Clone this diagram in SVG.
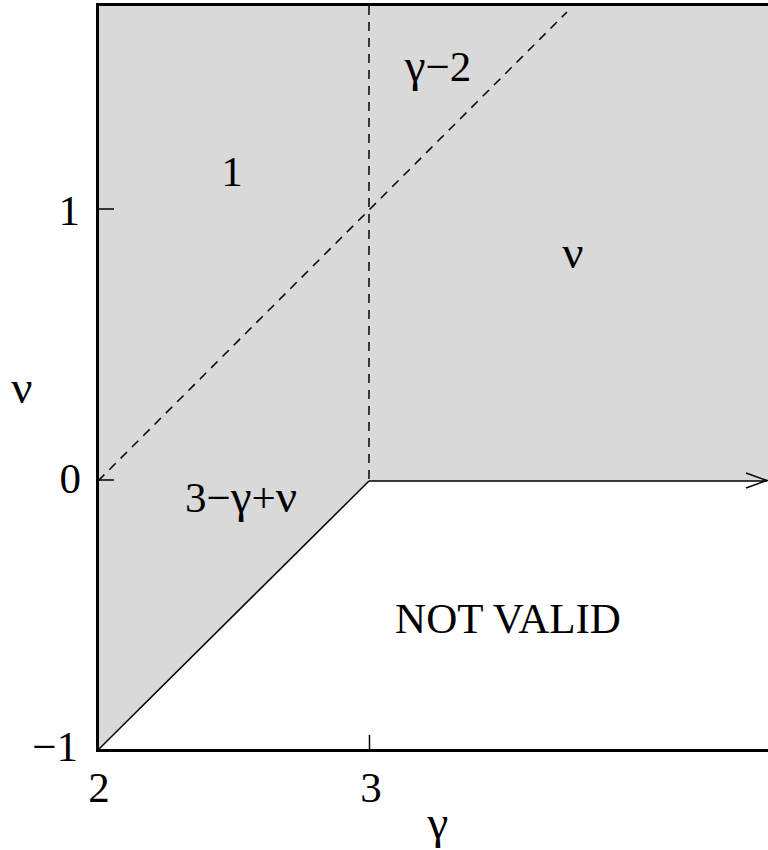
<svg xmlns="http://www.w3.org/2000/svg" width="768" height="850" viewBox="0 0 768 850">
<style>
text{font-family:"Liberation Serif","Times New Roman",serif;font-size:43px;fill:#000}
.g{font-size:47px}
.ax{stroke:#000;stroke-width:3;fill:none}
.thin{stroke:#000;stroke-width:1.5;fill:none}
.dash{stroke:#000;stroke-width:1.5;fill:none;stroke-dasharray:9,7}
</style>
<rect x="0" y="0" width="768" height="850" fill="#fff"/>
<g id="region">
<polygon points="98,4.5 768,4.5 768,481 369,481 98,750" fill="#d9d9d9"/>
</g>
<g id="connectors">
<line class="dash" x1="369" y1="6" x2="369" y2="481"/>
<line class="dash" x1="98" y1="481" x2="567" y2="12"/>
<line class="thin" x1="98" y1="750" x2="369" y2="481"/>
<line class="thin" x1="369" y1="481" x2="767" y2="481"/>
<polyline class="thin" points="746,473 767,480.5 746,488"/>
<polyline class="ax" points="768,4.5 97.5,4.5 97.5,750.5 768,750.5"/>
<line class="thin" x1="98" y1="209" x2="114" y2="209"/>
<line class="thin" x1="98" y1="480" x2="114" y2="480"/>
<line class="thin" x1="369.5" y1="735" x2="369.5" y2="750"/>
</g>
<g id="labels">
<text x="80" y="225" text-anchor="end">1</text>
<text x="81" y="493" text-anchor="end">0</text>
<text x="78" y="761" text-anchor="end">−1</text>
<text x="99" y="802" text-anchor="middle">2</text>
<text x="371" y="802" text-anchor="middle">3</text>
<text x="438" y="838" text-anchor="middle" class="g">γ</text>
<text x="22" y="403" text-anchor="middle" class="g">ν</text>
<text x="232" y="186" text-anchor="middle">1</text>
<text x="438" y="81" text-anchor="middle"><tspan class="g">γ</tspan>−2</text>
<text x="573" y="268" text-anchor="middle" class="g">ν</text>
<text x="241" y="512" text-anchor="middle">3−<tspan class="g">γ</tspan>+<tspan class="g">ν</tspan></text>
<text x="508" y="633" text-anchor="middle">NOT VALID</text>
</g>
</svg>
